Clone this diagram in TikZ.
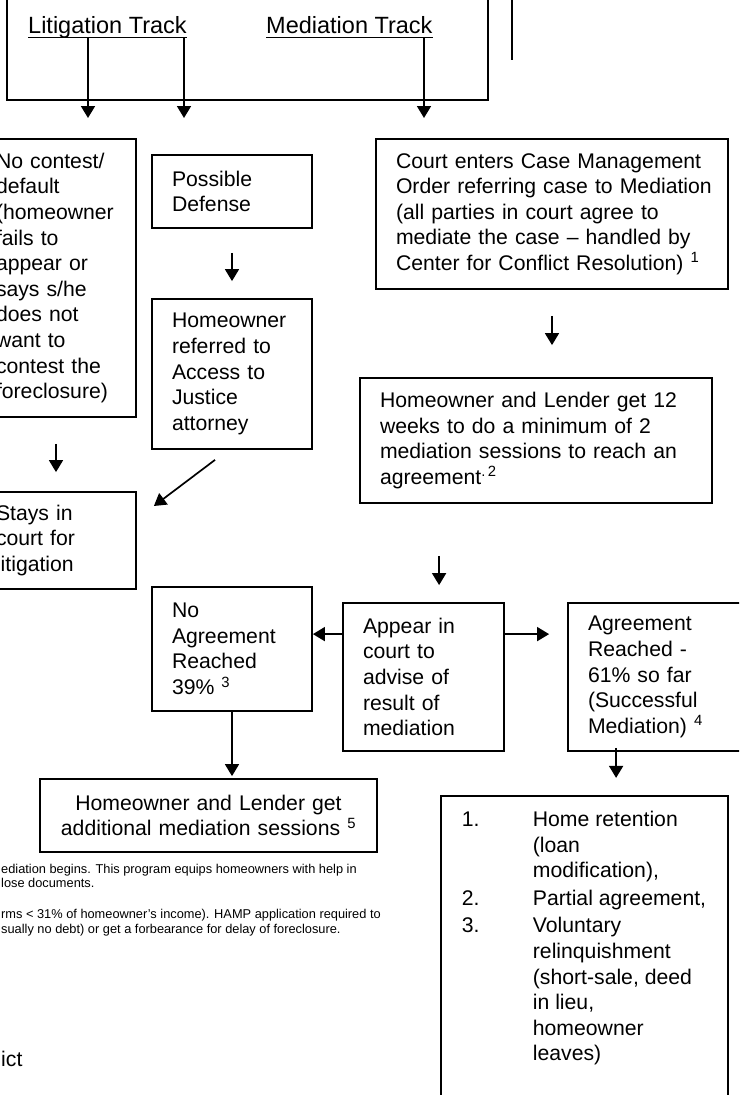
\documentclass[tikz,border=0pt]{standalone}
\usepackage{fontspec}
\setmainfont{Liberation Sans}
\usetikzlibrary{arrows.meta,calc}
\newcommand\bxfont{\fontsize{21.2}{25.6}\selectfont\hyphenpenalty=10000\exhyphenpenalty=10000\hfuzz=20pt}
\newcommand\hdfont{\fontsize{23.5}{28}\selectfont}
\newcommand\fnfont{\fontsize{12.8}{14.6}\selectfont}
\begin{document}
\begin{tikzpicture}[x=1pt,y=-1pt,
  bx/.style={draw, line width=1.8pt, inner xsep=20pt, inner ysep=0pt, align=left, font=\bxfont},
  arr/.style={line width=1.7pt, -{Triangle[length=12pt,width=14pt]}},
  lbl/.style={anchor=base west, inner sep=0pt},
  ]
\clip (0,0) rectangle (739,1095);
\fill[white] (0,0) rectangle (739,1095);

% header
\node[draw, line width=1.8pt, minimum width=481pt, minimum height=160pt, inner sep=0pt] (hdr) at (247.5,20) {};
\node[lbl, font=\hdfont] (lit) at (28,33) {Litigation Track};
\node[lbl, font=\hdfont] (med) at (266,33) {Mediation Track};
\draw[line width=1.5pt] ($(lit.base west)+(0,4.5)$) -- ($(lit.base east)+(0,4.5)$);
\draw[line width=1.5pt] ($(med.base west)+(0,4.5)$) -- ($(med.base east)+(0,4.5)$);
\coordinate (vl1) at (512,-5);
\coordinate (vl2) at (512,60);
\draw[line width=1.5pt] (vl1) -- (vl2);

% litigation column
\node[bx, text width=120pt, minimum height=278pt] (nc) at (56,278) {No contest/\\default\\(homeowner\\fails to\\appear or\\says s/he\\does not\\want to\\contest the\\foreclosure)};
\node[bx, text width=120pt, minimum height=73pt] (pd) at (232,191.5) {Possible\\Defense};
\node[bx, text width=120pt, minimum height=150pt] (hr) at (232,374) {Homeowner\\referred to\\Access to\\Justice\\attorney};
\node[bx, text width=120pt, minimum height=97pt] (st) at (56,540.5) {Stays in\\court for\\litigation};

% mediation column
\node[bx, text width=312pt, minimum height=150pt] (ct) at (552,214) {Court enters Case Management\\\mbox{Order referring case to Mediation}\\(all parties in court agree to\\mediate the case -- handled by\\Center for Conflict Resolution) \textsuperscript{1}};
\node[bx, text width=312pt, minimum height=125pt] (tw) at (536,440.5) {Homeowner and Lender get 12\\weeks to do a minimum of 2\\mediation sessions to reach an\\agreement\textsuperscript{.\,2}};
\node[bx, text width=120pt, minimum height=124pt] (na) at (232,649) {No\\Agreement\\Reached\\39\% \textsuperscript{3}};
\node[bx, text width=121pt, minimum height=148pt] (ap) at (423.5,677) {Appear in\\court to\\advise of\\result of\\mediation};
\node[bx, text width=142pt, minimum height=148pt] (ag) at (659,677) {Agreement\\Reached -\\61\% so far\\(Successful\\Mediation) \textsuperscript{4}};
\node[bx, align=center, text width=297pt, minimum height=73pt] (add) at (208.5,815.5) {Homeowner and Lender get\\additional mediation sessions \textsuperscript{5}};
\node[draw, line width=1.8pt, anchor=north west, inner xsep=21pt, inner ysep=12.7pt, font=\bxfont] (lst) at (440,795) {\parbox[t][300pt][t]{245pt}{\begin{tabular}{@{}p{71pt}@{}l@{}}
1. & Home retention\\
 & (loan\\
 & modification),\\[2pt]
2. & Partial agreement,\\[2pt]
3. & Voluntary\\
 & relinquishment\\
 & (short-sale, deed\\
 & in lieu,\\
 & homeowner\\
 & leaves)
\end{tabular}}};

% footnotes
\node[lbl, font=\fnfont] (f1a) at (1,873) {ediation begins. This program equips homeowners with help in};
\node[lbl, font=\fnfont] (f1b) at (1,887) {lose documents.};
\node[lbl, font=\fnfont] (f2a) at (1,918) {rms < 31\% of homeowner's income). HAMP application required to};
\node[lbl, font=\fnfont] (f2b) at (1,933) {sually no debt) or get a forbearance for delay of foreclosure.};
\node[lbl, font=\bxfont] (ict) at (1,1066) {ict};

% connectors
\coordinate (t1) at (88,118);
\coordinate (t2) at (184,118);
\coordinate (t3) at (424,118);
\draw[arr] ($(lit.base west)+(60,4.5)$) -- (t1);
\draw[arr] ($(lit.base west)+(156,4.5)$) -- (t2);
\draw[arr] ($(med.base west)+(158,4.5)$) -- (t3);
\draw[arr, shorten <=24pt, shorten >=17pt] (pd.south) -- (hr.north);
\draw[arr, shorten <=26pt, shorten >=19pt] (nc.south) -- (st.north);
\draw[arr] ($(hr.south)+(-17,10)$) -- ($(st.east)+(17,-34.5)$);
\draw[arr, shorten <=26pt, shorten >=32pt] (ct.south) -- (ct.south |- tw.north);
\draw[arr] ($(tw.south west)+(80,52)$) -- ($(ap.north west)+(97,-17)$);
\draw[arr] ($(ap.north west)+(0,32)$) -- ($(na.north east)+(0,48)$);
\draw[arr] ($(ap.north east)+(0,32)$) -- ($(ag.north west)+(-18,32)$);
\draw[arr, shorten >=2pt] (na.south) -- (na.south |- add.north);
\draw[arr] ($(ag.south west)+(49,-4)$) -- ($(ag.south west)+(49,26)$);
\end{tikzpicture}
\end{document}
